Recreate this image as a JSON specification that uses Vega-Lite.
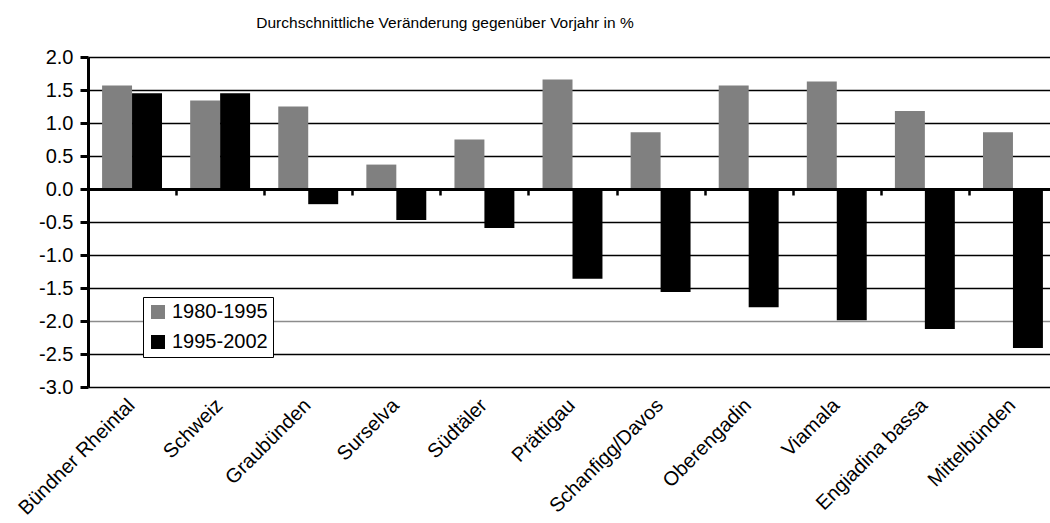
{
  "$schema": "https://vega.github.io/schema/vega-lite/v6.json",
  "width": 962,
  "height": 330,
  "autosize": {"type": "none"},
  "padding": {"left": 88, "top": 57, "right": 0, "bottom": 136},
  "background": "white",
  "title": {
    "text": "Durchschnittliche Veränderung gegenüber Vorjahr in %",
    "font": "Liberation Sans",
    "fontSize": 15.5,
    "fontWeight": "normal",
    "color": "black",
    "anchor": "middle",
    "frame": "group",
    "dx": -124,
    "offset": 16
  },
  "config": {
    "view": {"stroke": null},
    "font": "Liberation Sans"
  },
  "data": {
    "values": [
      {"Region": "Bündner Rheintal", "Periode": "1980-1995", "Wert": 1.57},
      {"Region": "Bündner Rheintal", "Periode": "1995-2002", "Wert": 1.45},
      {"Region": "Schweiz", "Periode": "1980-1995", "Wert": 1.34},
      {"Region": "Schweiz", "Periode": "1995-2002", "Wert": 1.45},
      {"Region": "Graubünden", "Periode": "1980-1995", "Wert": 1.25},
      {"Region": "Graubünden", "Periode": "1995-2002", "Wert": -0.23},
      {"Region": "Surselva", "Periode": "1980-1995", "Wert": 0.37},
      {"Region": "Surselva", "Periode": "1995-2002", "Wert": -0.47},
      {"Region": "Südtäler", "Periode": "1980-1995", "Wert": 0.75},
      {"Region": "Südtäler", "Periode": "1995-2002", "Wert": -0.59},
      {"Region": "Prättigau", "Periode": "1980-1995", "Wert": 1.66},
      {"Region": "Prättigau", "Periode": "1995-2002", "Wert": -1.36},
      {"Region": "Schanfigg/Davos", "Periode": "1980-1995", "Wert": 0.86},
      {"Region": "Schanfigg/Davos", "Periode": "1995-2002", "Wert": -1.56},
      {"Region": "Oberengadin", "Periode": "1980-1995", "Wert": 1.57},
      {"Region": "Oberengadin", "Periode": "1995-2002", "Wert": -1.79},
      {"Region": "Viamala", "Periode": "1980-1995", "Wert": 1.63},
      {"Region": "Viamala", "Periode": "1995-2002", "Wert": -1.99},
      {"Region": "Engiadina bassa", "Periode": "1980-1995", "Wert": 1.18},
      {"Region": "Engiadina bassa", "Periode": "1995-2002", "Wert": -2.12},
      {"Region": "Mittelbünden", "Periode": "1980-1995", "Wert": 0.86},
      {"Region": "Mittelbünden", "Periode": "1995-2002", "Wert": -2.41}
    ]
  },
  "mark": {"type": "bar"},
  "encoding": {
    "x": {
      "field": "Region",
      "type": "nominal",
      "sort": null,
      "scale": {"paddingInner": 0, "paddingOuter": 0, "range": [0, 969]},
      "axis": {
        "title": null,
        "orient": "bottom",
        "offset": -198,
        "zindex": 1,
        "domain": true,
        "domainColor": "black",
        "domainWidth": 3,
        "ticks": true,
        "tickBand": "extent",
        "tickColor": "black",
        "tickWidth": 2.5,
        "tickSize": 6,
        "grid": false,
        "labelAngle": -45,
        "labelAlign": "right",
        "labelBaseline": "middle",
        "labelPadding": 207,
        "labelOffset": -1,
        "labelFont": "Liberation Sans",
        "labelFontSize": 20,
        "labelColor": "black",
        "labelLimit": 0
      }
    },
    "xOffset": {
      "field": "Periode",
      "type": "nominal",
      "scale": {"paddingInner": 0, "paddingOuter": 0.47}
    },
    "y": {
      "field": "Wert",
      "type": "quantitative",
      "scale": {"domain": [-3, 2], "nice": false, "zero": false},
      "axis": {
        "title": null,
        "values": [-3, -2.5, -2, -1.5, -1, -0.5, 0, 0.5, 1, 1.5, 2],
        "labelExpr": "replace(format(datum.value, '.1f'), '\u2212', '-')",
        "domain": true,
        "domainColor": "black",
        "domainWidth": 3,
        "ticks": true,
        "tickColor": "black",
        "tickWidth": 3,
        "tickSize": 8,
        "grid": true,
        "gridColor": {"condition": {"test": "datum.value === -2", "value": "#8c8c8c"}, "value": "black"},
        "gridWidth": 1.6,
        "gridOpacity": 1,
        "labelPadding": 7,
        "labelFont": "Liberation Sans",
        "labelFontSize": 20,
        "labelColor": "black"
      }
    },
    "color": {
      "field": "Periode",
      "type": "nominal",
      "scale": {"domain": ["1980-1995", "1995-2002"], "range": ["#808080", "#000000"]},
      "legend": {
        "title": null,
        "orient": "none",
        "legendX": 55,
        "legendY": 240,
        "padding": 5,
        "strokeColor": "black",
        "fillColor": "white",
        "symbolType": "square",
        "symbolSize": 196,
        "symbolStrokeWidth": 0,
        "symbolOpacity": 1,
        "labelFont": "Liberation Sans",
        "labelFontSize": 20,
        "labelColor": "black",
        "labelOffset": 4,
        "rowPadding": 10
      }
    }
  }
}
